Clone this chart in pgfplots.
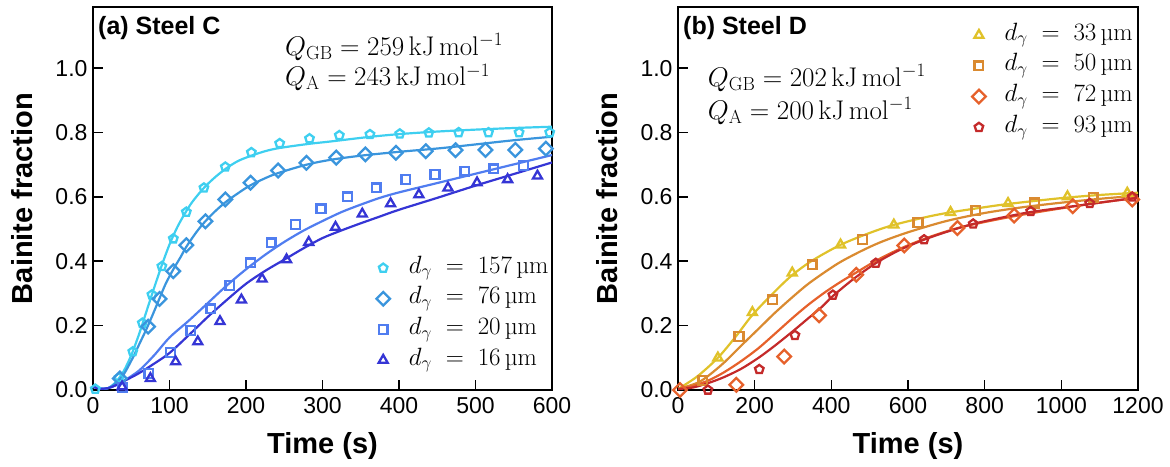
\documentclass[border=0pt]{standalone}
\usepackage{fix-cm}
\usepackage[no-math]{fontspec}
\usepackage{pgfplots}
\pgfplotsset{compat=1.18}
\newfontfamily\arial{Liberation Sans}
\definecolor{cA}{RGB}{62,207,240}
\definecolor{cB}{RGB}{58,149,221}
\definecolor{cC}{RGB}{80,125,240}
\definecolor{cD}{RGB}{53,53,213}
\definecolor{cE}{RGB}{224,194,42}
\definecolor{cF}{RGB}{218,138,48}
\definecolor{cG}{RGB}{230,97,43}
\definecolor{cH}{RGB}{196,42,42}
\pgfplotsset{
  myaxis/.style={
    scale only axis, width=459pt, height=383pt,
    ymin=0, ymax=1.19,
    ytick={0,0.2,0.4,0.6,0.8,1.0},
    tick align=inside, xtick pos=bottom, ytick pos=left,
    major tick length=10pt,
    axis line style={line width=1.6pt},
    every tick/.style={black, line width=1.6pt},
    tick label style={font=\arial\fontsize{23}{27}\selectfont},
    /pgf/number format/assume math mode=true,
    /pgf/number format/1000 sep={},
    yticklabel style={xshift=-2pt, /pgf/number format/fixed, /pgf/number format/fixed zerofill, /pgf/number format/precision=1},
    xticklabel style={yshift=-4pt},
    label style={font=\arial\bfseries\fontsize{29}{34}\selectfont},
    xlabel={Time (s)},
    ylabel={Bainite fraction},
    xlabel style={at={(rel axis cs:0.5,-0.145)}, anchor=center},
    ylabel style={at={(rel axis cs:-0.155,0.5)}, anchor=center},
    legend cell align=left,
    legend image code/.code={\draw[#1] plot coordinates {(6pt,0pt)};},
    legend style={draw=none, fill=none, inner sep=0pt, row sep=0pt, column sep=16pt,
      font=\fontsize{25}{30}\selectfont,
      nodes={inner xsep=3pt, inner ysep=4.35pt, text height=16pt, text depth=6pt}},
  },
  mk/.style={only marks, mark size=4.5pt, line width=2.3pt, mark options={solid, fill=none, line width=2.3pt}},
  ln/.style={line width=2.2pt, smooth, forget plot, no marks},
}
\begin{document}
\begin{tikzpicture}
\useasboundingbox (-93pt,-76pt) rectangle (1077pt,390pt);
% ---------------- (a) Steel C
\begin{axis}[myaxis, at={(0pt,0pt)}, anchor=south west,
  xmin=0, xmax=600, xtick={0,100,200,300,400,500,600},
  legend style={at={(rel axis cs:0.617,0.359)}, anchor=north west}]
\addplot[mk, draw=cA, mark=pentagon] coordinates {(3,0.003)(34,0.038)(52,0.119)(64.5,0.208)(77,0.296)(90,0.384)(105,0.47)(122,0.553)(145,0.628)(173,0.693)(207,0.738)(244,0.766)(283,0.781)(322,0.791)(362,0.794)(401,0.796)(439,0.799)(478,0.80)(517,0.80)(557,0.80)(597,0.80)};
\addlegendentry{$d_{\gamma}\;=\;157\,$µm}
\addplot[mk, draw=cB, mark=square, mark size=4.8pt, mark options={rotate=45}] coordinates {(35,0.036)(72,0.197)(87,0.283)(105,0.369)(122,0.45)(147,0.524)(173,0.592)(206,0.644)(242,0.682)(279,0.706)(318,0.722)(356,0.732)(396,0.737)(435,0.742)(474,0.745)(513,0.746)(552,0.746)(592,0.75)};
\addlegendentry{$d_{\gamma}\;=\;76\,$µm}
\addplot[mk, draw=cC, mark=square, mark size=4.4pt] coordinates {(38,0.008)(73,0.052)(101.5,0.116)(128,0.185)(154,0.252)(179,0.325)(206,0.395)(233,0.457)(265,0.514)(298,0.563)(333,0.600)(370,0.628)(409,0.654)(447,0.670)(486,0.680)(524,0.687)(563,0.698)};
\addlegendentry{$d_{\gamma}\;=\;20\,$µm}
\addplot[mk, draw=cD, mark=triangle, mark size=5.2pt] coordinates {(38,0.01)(75,0.036)(108,0.088)(137,0.15)(166,0.213)(194,0.28)(221,0.345)(253,0.405)(282,0.459)(317,0.506)(352,0.547)(389,0.579)(426,0.607)(464,0.628)(502,0.644)(542,0.654)(581,0.665)};
\addlegendentry{$d_{\gamma}\;=\;16\,$µm}
\addplot[ln, cA] coordinates {(0,0.01)(10,0.004)(20,0.006)(30,0.025)(40,0.058)(50,0.108)(60,0.172)(70,0.245)(80,0.318)(90,0.388)(100,0.452)(110,0.505)(120,0.548)(130,0.585)(145,0.628)(160,0.662)(175,0.69)(190,0.712)(207,0.728)(225,0.742)(244,0.752)(283,0.765)(310,0.772)(360,0.786)(400,0.795)(450,0.803)(500,0.809)(550,0.814)(600,0.818)};
\addplot[ln, cB] coordinates {(0,0.01)(10,0.004)(20,0.006)(30,0.022)(40,0.048)(52,0.10)(60,0.14)(70,0.19)(80,0.245)(87,0.285)(95,0.33)(105,0.375)(115,0.415)(122,0.445)(135,0.49)(146,0.522)(160,0.556)(174,0.585)(190,0.612)(205,0.635)(225,0.658)(242,0.674)(279,0.70)(310,0.715)(350,0.728)(400,0.74)(453,0.751)(500,0.763)(550,0.776)(600,0.787)};
\addplot[ln, cC] coordinates {(0,0.01)(10,0.004)(20,0.006)(30,0.015)(40,0.028)(60,0.06)(80,0.108)(100,0.163)(125,0.215)(150,0.27)(175,0.325)(200,0.375)(225,0.42)(250,0.46)(275,0.495)(300,0.525)(325,0.553)(350,0.576)(375,0.597)(400,0.614)(450,0.643)(500,0.672)(550,0.701)(600,0.73)};
\addplot[ln, cD] coordinates {(0,0.01)(10,0.004)(20,0.006)(30,0.015)(40,0.027)(60,0.052)(80,0.082)(100,0.115)(125,0.17)(150,0.227)(175,0.28)(200,0.33)(225,0.37)(250,0.405)(275,0.44)(300,0.472)(325,0.496)(350,0.518)(375,0.539)(400,0.56)(450,0.597)(500,0.635)(550,0.671)(600,0.707)};
\node[anchor=base west, inner sep=0pt, font=\arial\bfseries\fontsize{25}{30}\selectfont] at (rel axis cs:0,1) [xshift=5pt, yshift=-28pt] {(a) Steel C};
\node[anchor=base west, inner sep=0pt, font=\fontsize{27}{31}\selectfont] at (axis cs:251,1.04) {$Q_{\mathrm{GB}} = 259\,\mathrm{kJ\,mol^{-1}}$};
\node[anchor=base west, inner sep=0pt, font=\fontsize{27}{31}\selectfont] at (axis cs:251,0.945) {$Q_{\mathrm{A}} = 243\,\mathrm{kJ\,mol^{-1}}$};
\end{axis}
% ---------------- (b) Steel D
\begin{axis}[myaxis, at={(585pt,0pt)}, anchor=south west, width=460pt,
  xmin=0, xmax=1200, xtick={0,200,400,600,800,1000,1200},
  legend style={at={(rel axis cs:0.639,0.967)}, anchor=north west}]
\addplot[mk, draw=cE, mark=triangle, mark size=5.2pt] coordinates {(104,0.10)(194,0.241)(298,0.364)(424,0.451)(563,0.513)(711,0.552)(861,0.58)(1016,0.601)(1172,0.612)};
\addlegendentry{$d_{\gamma}\;=\;33\,$µm}
\addplot[mk, draw=cF, mark=square, mark size=4.4pt] coordinates {(65,0.03)(159,0.166)(246,0.28)(350,0.389)(481,0.467)(626,0.521)(777,0.558)(930,0.581)(1083,0.599)};
\addlegendentry{$d_{\gamma}\;=\;50\,$µm}
\addplot[mk, draw=cG, mark=square, mark size=4.8pt, mark options={rotate=45}] coordinates {(5,0.0)(152,0.016)(277,0.104)(368,0.232)(465,0.358)(590,0.449)(729,0.503)(877,0.542)(1030,0.571)(1185,0.592)};
\addlegendentry{$d_{\gamma}\;=\;72\,$µm}
\addplot[mk, draw=cH, mark=pentagon] coordinates {(78,0.0)(212,0.064)(305,0.17)(404,0.295)(516,0.394)(642,0.467)(770,0.516)(920,0.555)(1074,0.58)(1185,0.60)};
\addlegendentry{$d_{\gamma}\;=\;93\,$µm}
\addplot[ln, cE] coordinates {(0,0.003)(50,0.042)(104,0.10)(150,0.165)(194,0.233)(250,0.303)(298,0.357)(350,0.402)(424,0.451)(500,0.488)(563,0.513)(650,0.538)(711,0.552)(800,0.568)(861,0.578)(950,0.59)(1016,0.598)(1100,0.606)(1200,0.613)};
\addplot[ln, cF] coordinates {(0,0.003)(50,0.022)(80,0.045)(120,0.085)(165,0.138)(210,0.19)(253,0.24)(300,0.29)(340,0.33)(390,0.372)(427,0.4)(480,0.433)(530,0.46)(600,0.49)(700,0.525)(800,0.55)(900,0.568)(1000,0.582)(1100,0.594)(1200,0.604)};
\addplot[ln, cG] coordinates {(0,0.003)(40,0.013)(80,0.03)(120,0.055)(165,0.09)(210,0.13)(253,0.175)(300,0.225)(340,0.265)(385,0.305)(427,0.338)(465,0.365)(514,0.4)(560,0.428)(601,0.45)(660,0.477)(729,0.503)(800,0.522)(877,0.54)(950,0.555)(1030,0.57)(1100,0.582)(1200,0.598)};
\addplot[ln, cH] coordinates {(0,0.003)(40,0.008)(80,0.022)(120,0.04)(165,0.066)(210,0.1)(253,0.138)(300,0.183)(340,0.223)(375,0.258)(404,0.292)(460,0.347)(516,0.394)(575,0.433)(642,0.467)(700,0.491)(770,0.516)(850,0.537)(920,0.553)(1000,0.566)(1074,0.578)(1150,0.59)(1200,0.597)};
\node[anchor=base west, inner sep=0pt, font=\arial\bfseries\fontsize{25}{30}\selectfont] at (rel axis cs:0,1) [xshift=5pt, yshift=-28pt] {(b) Steel D};
\node[anchor=base west, inner sep=0pt, font=\fontsize{27}{31}\selectfont] at (axis cs:77.6,0.944) {$Q_{\mathrm{GB}} = 202\,\mathrm{kJ\,mol^{-1}}$};
\node[anchor=base west, inner sep=0pt, font=\fontsize{27}{31}\selectfont] at (axis cs:77.6,0.842) {$Q_{\mathrm{A}} = 200\,\mathrm{kJ\,mol^{-1}}$};
\end{axis}
\end{tikzpicture}
\end{document}
